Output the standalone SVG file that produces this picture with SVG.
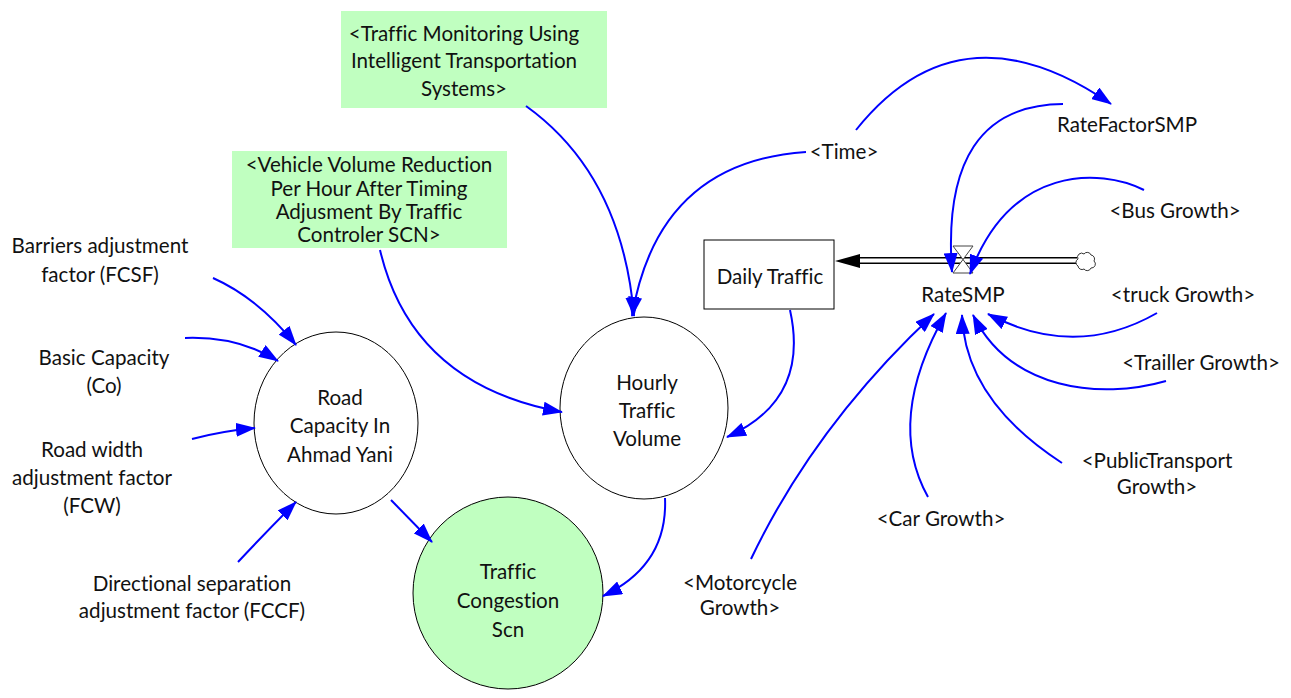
<svg xmlns="http://www.w3.org/2000/svg" width="1291" height="698" viewBox="0 0 1291 698">
<style>
text{font-family:Lato,"Liberation Sans",sans-serif;font-size:20.6px;fill:#111;text-anchor:middle;font-variant-ligatures:none;font-feature-settings:"liga" 0}
.node{fill:#fff;stroke:#000;stroke-width:1}
.green{fill:#c0ffc0}
.link{fill:none;stroke:#0000ff;stroke-width:2;marker-end:url(#ah)}
</style>
<defs>
<marker id="ah" markerUnits="userSpaceOnUse" viewBox="0 0 20 14" markerWidth="20" markerHeight="14" refX="19" refY="7" orient="auto">
<path d="M0,0 L20,7 L0,14 z" fill="#0000ff"/>
</marker>
</defs>
<rect width="1291" height="698" fill="#fff"/>

<g id="flow-RateSMP">
<line x1="858" y1="260.5" x2="1077" y2="260.5" stroke="#000" stroke-width="7"/>
<line x1="856" y1="260.5" x2="1078" y2="260.5" stroke="#fff" stroke-width="4"/>
<path d="M835,261 L860,254 L860,268 z" fill="#000"/>
<path d="M953,246 L973,246 L953,273 L973,273 z" fill="#fff" stroke="#444" stroke-width="1"/>
<text x="963" y="302">RateSMP</text>
</g>

<g id="cloud">
<path d="M1078,266 a4,4 0 0 1 0,-7 a4,4 0 0 1 6,-5 a4,4 0 0 1 7,1 a4,4 0 0 1 3,6 a4,4 0 0 1 -3,7 a4,4 0 0 1 -7,1 a4,4 0 0 1 -6,-3 z" fill="#fff" stroke="#333" stroke-width="1"/>
</g>

<g id="daily-traffic">
<rect x="704" y="240" width="130" height="69" class="node"/>
<text x="770" y="284">Daily Traffic</text>
</g>

<g id="road-capacity">
<ellipse cx="336" cy="423" rx="82" ry="91" class="node"/>
<text x="340" y="405">Road</text>
<text x="340" y="433">Capacity In</text>
<text x="340" y="462">Ahmad Yani</text>
</g>

<g id="hourly-traffic">
<ellipse cx="644" cy="408" rx="84" ry="91" class="node"/>
<text x="647" y="390">Hourly</text>
<text x="647" y="418">Traffic</text>
<text x="647" y="446">Volume</text>
</g>

<g id="traffic-congestion">
<ellipse cx="508" cy="593" rx="95" ry="96" class="node green"/>
<text x="508" y="579">Traffic</text>
<text x="508" y="608">Congestion</text>
<text x="508" y="637">Scn</text>
</g>

<g id="traffic-monitoring">
<rect x="341" y="11" width="266" height="97" fill="#c0ffc0"/>
<text x="464" y="41">&lt;Traffic Monitoring Using</text>
<text x="464" y="68">Intelligent Transportation</text>
<text x="464" y="96">Systems&gt;</text>
</g>

<g id="vehicle-volume">
<rect x="232" y="151" width="275" height="97" fill="#c0ffc0"/>
<text x="369" y="172">&lt;Vehicle Volume Reduction</text>
<text x="369" y="196">Per Hour After Timing</text>
<text x="369" y="219">Adjusment By Traffic</text>
<text x="369" y="242">Controler SCN&gt;</text>
</g>

<g id="barriers"><text x="100" y="253">Barriers adjustment</text><text x="100" y="282">factor (FCSF)</text></g>
<g id="basic-capacity"><text x="104" y="365">Basic Capacity</text><text x="104" y="393">(Co)</text></g>
<g id="road-width"><text x="92" y="457">Road width</text><text x="92" y="485">adjustment factor</text><text x="92" y="513">(FCW)</text></g>
<g id="directional"><text x="192" y="591">Directional separation</text><text x="192" y="618">adjustment factor (FCCF)</text></g>

<g id="time"><text x="844" y="159">&lt;Time&gt;</text></g>
<g id="ratefactor"><text x="1127" y="132">RateFactorSMP</text></g>
<g id="bus"><text x="1175" y="218">&lt;Bus Growth&gt;</text></g>
<g id="truck"><text x="1183" y="302">&lt;truck Growth&gt;</text></g>
<g id="trailler"><text x="1201" y="370">&lt;Trailler Growth&gt;</text></g>
<g id="public"><text x="1157" y="468">&lt;PublicTransport</text><text x="1157" y="494">Growth&gt;</text></g>
<g id="car"><text x="941" y="526">&lt;Car Growth&gt;</text></g>
<g id="motorcycle"><text x="740" y="590">&lt;Motorcycle</text><text x="740" y="615">Growth&gt;</text></g>

<g id="connectors">
<path class="link" d="M213,278 Q258,298 296,345"/>
<path class="link" d="M185,338 Q238,336 278,361"/>
<path class="link" d="M192,439 Q222,431 255,428"/>
<path class="link" d="M238,562 Q268,530 296,502"/>
<path class="link" d="M391,500 L432,542"/>
<path class="link" d="M665,498 Q668,565 603,596"/>
<path class="link" d="M380,250 Q412,385 562,412"/>
<path class="link" d="M526,106 Q622,175 634,316"/>
<path class="link" d="M806,152 Q658,162 632,316"/>
<path class="link" d="M790,310 Q810,400 727,437"/>
<path class="link" d="M856,130 Q960,0 1111,104"/>
<path class="link" d="M1063,104 Q940,105 952,272"/>
<path class="link" d="M1144,190 C1100,168 1010,165 970,274"/>
<path class="link" d="M1157,313 Q1075,360 988,314"/>
<path class="link" d="M1166,381 C1100,400 1010,390 973,315"/>
<path class="link" d="M1062,463 Q965,400 962,315"/>
<path class="link" d="M928,497 Q885,420 946,313"/>
<path class="link" d="M751,559 Q815,425 934,314"/>
</g>
</svg>
